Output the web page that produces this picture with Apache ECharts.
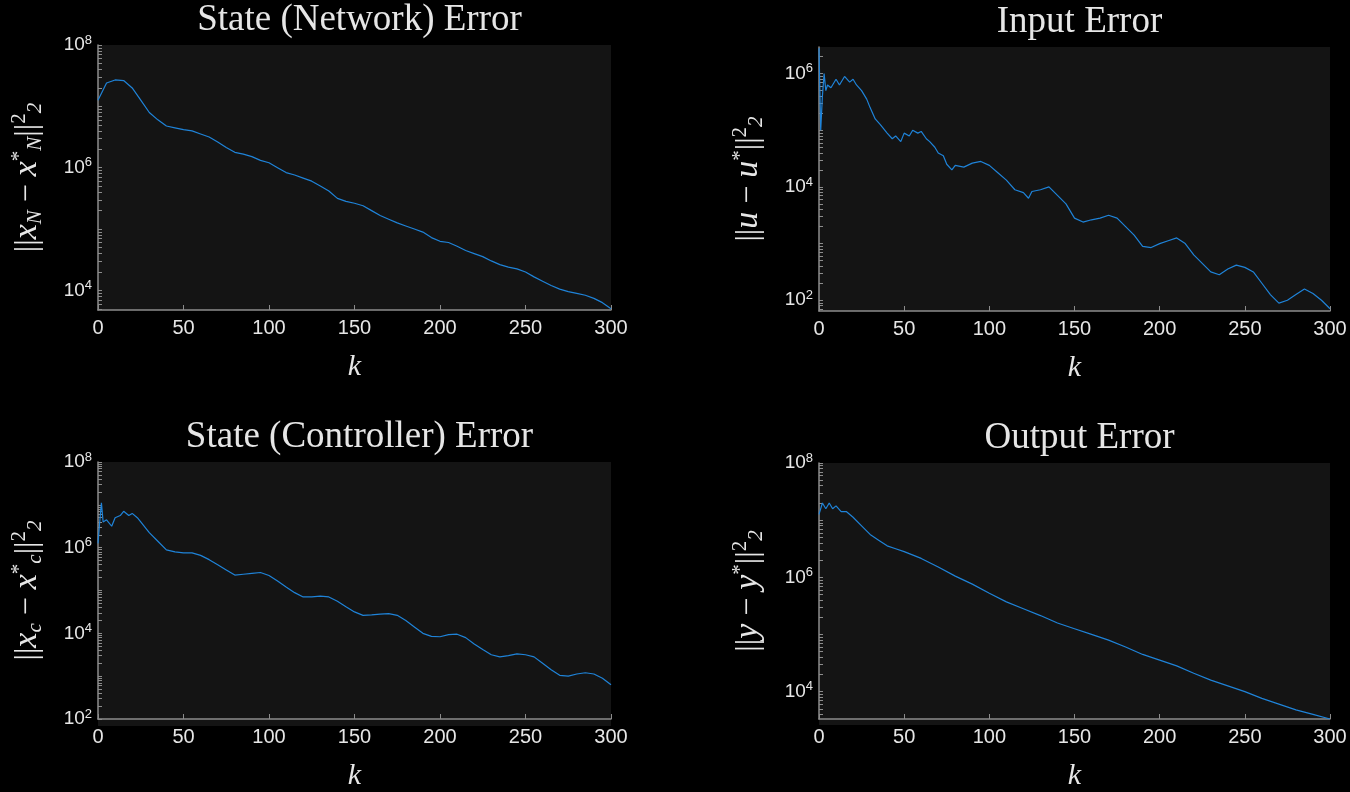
<!DOCTYPE html>
<html><head><meta charset="utf-8">
<script src="https://cdn.jsdelivr.net/npm/echarts@6/dist/echarts.min.js"></script>
<style>html,body{margin:0;background:#000}#c{width:1350px;height:792px}</style>
</head><body><div id="c"></div>
<script>
// values given as log10 of the error norm at these k
const netK=[0,5,10,15,20,25,30,35,40,45,50,55,60,65,70,75,80,85,90,95,100,105,110,115,120,125,130,135,140,145,150,155,160,165,170,175,180,185,190,195,200,205,210,215,220,225,230,235,240,245,250,255,260,265,270,275,280,285,290,295,300];
const netLog=[7.1,7.38,7.43,7.42,7.3,7.1,6.9,6.78,6.68,6.65,6.62,6.6,6.55,6.5,6.42,6.33,6.25,6.22,6.18,6.12,6.08,6.0,5.92,5.88,5.83,5.78,5.7,5.62,5.5,5.45,5.42,5.38,5.3,5.22,5.16,5.1,5.05,5.0,4.95,4.86,4.8,4.78,4.72,4.65,4.6,4.55,4.48,4.42,4.38,4.35,4.3,4.22,4.15,4.08,4.02,3.98,3.95,3.92,3.87,3.8,3.7];
const inK=[0,1,2,3,4,5,7,10,12,15,18,20,22,25,28,30,33,36,40,43,45,48,50,53,55,58,60,63,65,68,70,73,75,78,80,85,90,95,100,105,110,115,120,123,125,130,135,140,145,150,155,160,165,170,175,180,185,190,195,200,205,210,215,220,225,230,235,240,245,250,255,260,265,270,275,280,285,290,295,300];
const inLog=[6.45,5.0,5.6,6.0,5.7,5.8,5.75,5.9,5.8,5.95,5.85,5.9,5.8,5.7,5.55,5.4,5.2,5.1,4.95,4.85,4.9,4.8,4.95,4.9,5.0,4.95,4.98,4.85,4.8,4.7,4.6,4.55,4.4,4.3,4.38,4.35,4.42,4.45,4.38,4.25,4.12,3.95,3.9,3.8,3.92,3.95,4.0,3.85,3.7,3.45,3.38,3.42,3.45,3.5,3.45,3.3,3.15,2.95,2.93,3.0,3.05,3.1,3.0,2.8,2.65,2.5,2.45,2.55,2.62,2.58,2.5,2.3,2.1,1.95,2.0,2.1,2.2,2.12,2.0,1.85];
const ctlK=[0,1,2,3,5,8,10,13,15,18,20,23,25,28,30,35,40,45,50,55,60,65,70,75,80,85,90,95,100,105,110,115,120,125,130,135,140,145,150,155,160,165,170,175,180,185,190,195,200,205,210,215,220,225,230,235,240,245,250,255,260,265,270,275,280,285,290,295,300];
const ctlLog=[6.1,6.6,7.05,6.6,6.65,6.5,6.7,6.75,6.85,6.75,6.8,6.7,6.6,6.45,6.35,6.15,5.95,5.9,5.88,5.88,5.82,5.72,5.6,5.48,5.36,5.38,5.4,5.42,5.35,5.22,5.08,4.95,4.85,4.85,4.87,4.85,4.75,4.62,4.5,4.42,4.43,4.45,4.46,4.42,4.3,4.15,4.0,3.93,3.92,3.97,3.98,3.9,3.75,3.62,3.5,3.45,3.48,3.52,3.5,3.45,3.3,3.15,3.02,3.0,3.05,3.08,3.05,2.95,2.8];
const outK=[0,2,4,6,8,10,13,16,20,25,30,35,40,45,50,60,70,80,90,100,110,120,130,140,150,160,170,180,190,200,210,220,230,240,250,260,270,280,290,300];
const outLog=[7.1,7.3,7.2,7.3,7.2,7.25,7.15,7.15,7.05,6.9,6.75,6.65,6.55,6.5,6.45,6.33,6.18,6.02,5.88,5.72,5.57,5.45,5.33,5.2,5.1,5.0,4.9,4.78,4.65,4.55,4.45,4.32,4.2,4.1,4.0,3.88,3.78,3.68,3.6,3.52];
const xTicks=[0,50,100,150,200,250,300];
const titles=['State (Network) Error','Input Error','State (Controller) Error','Output Error'];

const grids=[{left:98,top:45,width:513,height:265},{left:819,top:47,width:511,height:264},{left:98,top:462,width:513,height:264},{left:819,top:463,width:511,height:262}];
const yr=[[3.68,8],[1.81,6.47],[2,8],[3.52,8]];
const yl=[[4,6,8],[2,4,6],[2,4,6,8],[4,6,8]];
const names=['||{i|x}{sub|N} − {i|x}{sup|*}{sub|N}||{sup|2}{sub|2}','||{i|u} − {i|u}{sup|*}||{sup|2}{sub|2}','||{i|x}{sub|c} − {i|x}{sup|*}{sub|c}||{sup|2}{sub|2}','||{i|y} − {i|y}{sup|*}||{sup|2}{sub|2}'];
const data=[[netK,netLog],[inK,inLog],[ctlK,ctlLog],[outK,outLog]];
function minor(a,b){const r=[];for(let n=Math.floor(a);n<=b;n++)for(let m=1;m<10;m++){const v=n+Math.log10(m);if(v>=a&&v<=b)r.push(v);}return r;}
const ax={lineStyle:{color:'#8c8c8c',width:1.5}};
const opt={backgroundColor:'#000',animation:false,grid:grids,title:[],xAxis:[],yAxis:[],series:[]};
grids.forEach((g,i)=>{
  opt.title.push({text:titles[i],left:g.left+g.width/2,top:g.top-48,textAlign:'center',textStyle:{fontFamily:'Liberation Serif',fontSize:37,fontWeight:'normal',color:'#e6e6e6'}});
  opt.xAxis.push({type:'value',gridIndex:i,min:0,max:300,interval:50,name:'k',nameLocation:'middle',nameGap:42,
    nameTextStyle:{fontFamily:'Liberation Serif',fontStyle:'italic',fontSize:30,color:'#e6e6e6'},
    axisLine:ax,axisTick:{inside:true,length:5,lineStyle:{color:'#8c8c8c'}},splitLine:{show:false},
    axisLabel:{color:'#e6e6e6',fontSize:20,fontFamily:'Liberation Sans',margin:8}});
  opt.yAxis.push({type:'value',gridIndex:i,min:yr[i][0],max:yr[i][1],name:names[i],nameLocation:'middle',nameGap:52,
    nameTextStyle:{fontFamily:'Liberation Serif',fontSize:32,color:'#e6e6e6',rich:{
      i:{fontFamily:'Liberation Serif',fontStyle:'italic',fontSize:34,color:'#e6e6e6'},
      sub:{fontFamily:'Liberation Serif',fontStyle:'italic',fontSize:21,color:'#e6e6e6',verticalAlign:'bottom',padding:[16,0,0,0]},
      sup:{fontFamily:'Liberation Serif',fontSize:21,color:'#e6e6e6',verticalAlign:'top',padding:[0,0,16,0]}}},
    axisLine:{show:true,lineStyle:{color:'#8c8c8c',width:1.5}},
    axisTick:{inside:true,length:4,customValues:minor(yr[i][0],yr[i][1]),lineStyle:{color:'#8c8c8c'}},splitLine:{show:false},
    axisLabel:{customValues:yl[i],color:'#e6e6e6',fontFamily:'Liberation Sans',fontSize:19,margin:6,
      formatter:v=>'10{s|'+Math.round(v)+'}',rich:{s:{fontSize:13,verticalAlign:'top',padding:[0,0,10,0],color:'#e6e6e6'}}}});
  const [ks,ls]=data[i];
  opt.series.push({type:'line',xAxisIndex:i,yAxisIndex:i,showSymbol:false,data:ks.map((k,j)=>[k,ls[j]]),lineStyle:{color:'#1f83d8',width:1.2}});
});
opt.graphic=grids.map(g=>({type:'rect',shape:{x:g.left,y:g.top,width:g.width,height:g.height},style:{fill:'#141414'},z:-10,silent:true}));
echarts.init(document.getElementById('c')).setOption(opt);
</script></body></html>
